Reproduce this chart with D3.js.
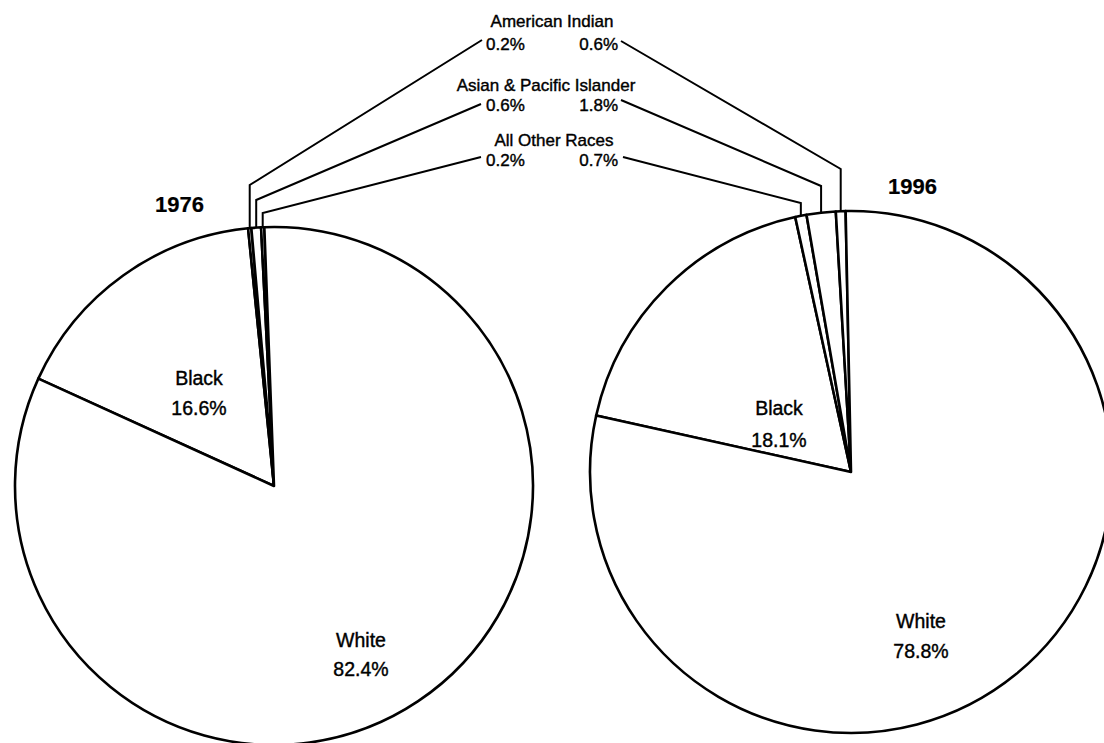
<!DOCTYPE html>
<html>
<head>
<meta charset="utf-8">
<script src="https://cdn.jsdelivr.net/npm/d3@7/dist/d3.min.js"></script>
<style>
  html, body { margin: 0; padding: 0; background: #fff; }
  svg { display: block; }
  text { font-family: "Liberation Sans", Arial, Helvetica, sans-serif; fill: #000; stroke: #000; stroke-width: 0.4px; }
</style>
</head>
<body>
<svg id="chart" width="1104" height="743"></svg>
<script>
// ---- Data ----
const years = ["1976", "1996"];
const categories = ["White", "Black", "American Indian", "Asian & Pacific Islander", "All Other Races"];
const values1976 = [82.4, 16.6, 0.2, 0.6, 0.2];
const values1996 = [78.8, 18.1, 0.6, 1.8, 0.7];
const minorCategories = ["American Indian", "Asian & Pacific Islander", "All Other Races"];

// ---- Layout ----
const svg = d3.select("#chart");
const deg = Math.PI / 180;

const pies = [
  { year: years[0], values: values1976, cx: 274, cy: 486, r: 259, start: -65.5 * deg,
    order: ["Black", "American Indian", "Asian & Pacific Islander", "All Other Races", "White"],
    yearPos: [155, 212],
    labels: { Black: [199, 385, 415], White: [361, 647, 676] },
    elbowY: { "American Indian": 185, "Asian & Pacific Islander": 200, "All Other Races": 213 },
    anchor: { "American Indian": [482, 40], "Asian & Pacific Islander": [481, 104], "All Other Races": [481, 157] } },
  { year: years[1], values: values1996, cx: 851, cy: 472, r: 261, start: -77.5 * deg,
    order: ["Black", "All Other Races", "Asian & Pacific Islander", "American Indian", "White"],
    yearPos: [888, 194],
    labels: { Black: [779, 415, 447], White: [921, 628, 658] },
    elbowY: { "American Indian": 169, "Asian & Pacific Islander": 186, "All Other Races": 203 },
    anchor: { "American Indian": [621, 41], "Asian & Pacific Islander": [621, 100], "All Other Races": [623, 157] } }
];

const fmt = v => v.toFixed(1) + "%";

pies.forEach(p => {
  const rows = p.order.map(c => ({ cat: c, value: p.values[categories.indexOf(c)] }));
  const pie = d3.pie().sort(null).value(d => d.value)
    .startAngle(p.start).endAngle(p.start + 2 * Math.PI);
  const arcs = pie(rows);
  const arc = d3.arc().innerRadius(0).outerRadius(p.r);
  const g = svg.append("g").attr("transform", `translate(${p.cx},${p.cy})`);
  g.selectAll("path").data(arcs).join("path")
    .attr("d", arc)
    .attr("fill", "#fff")
    .attr("stroke", "#000")
    .attr("stroke-width", 2.6)
    .attr("stroke-linejoin", "round");

  // year title
  svg.append("text").attr("x", p.yearPos[0]).attr("y", p.yearPos[1])
    .attr("font-size", 22).attr("font-weight", "bold").style("stroke-width", "0.2px").text(p.year);

  // major labels
  ["Black", "White"].forEach(c => {
    const L = p.labels[c];
    const v = p.values[categories.indexOf(c)];
    svg.append("text").attr("x", L[0]).attr("y", L[1]).attr("text-anchor", "middle")
      .attr("font-size", 19.5).text(c);
    svg.append("text").attr("x", L[0]).attr("y", L[2]).attr("text-anchor", "middle")
      .attr("font-size", 19.5).text(fmt(v));
  });

  // leader lines for minor slices
  arcs.filter(a => minorCategories.includes(a.data.cat)).forEach(a => {
    const m = (a.startAngle + a.endAngle) / 2;
    const ax = p.cx + p.r * Math.sin(m);
    const ay = p.cy - p.r * Math.cos(m);
    const ey = p.elbowY[a.data.cat];
    const an = p.anchor[a.data.cat];
    svg.append("path")
      .attr("d", d3.line()([[ax, ay], [ax, ey], an]))
      .attr("fill", "none").attr("stroke", "#000").attr("stroke-width", 2);
  });
});

// minor category labels at top
const minorLayout = {
  "American Indian": { tx: 552, ty: 27, vy: 50 },
  "Asian & Pacific Islander": { tx: 546, ty: 91, vy: 111 },
  "All Other Races": { tx: 554, ty: 146, vy: 166 }
};
minorCategories.forEach(c => {
  const L = minorLayout[c];
  const i = categories.indexOf(c);
  svg.append("text").attr("x", L.tx).attr("y", L.ty).attr("text-anchor", "middle")
    .attr("font-size", 17).text(c);
  svg.append("text").attr("x", 486).attr("y", L.vy).attr("text-anchor", "start")
    .attr("font-size", 17).text(fmt(values1976[i]));
  svg.append("text").attr("x", 618).attr("y", L.vy).attr("text-anchor", "end")
    .attr("font-size", 17).text(fmt(values1996[i]));
});
</script>
</body>
</html>
